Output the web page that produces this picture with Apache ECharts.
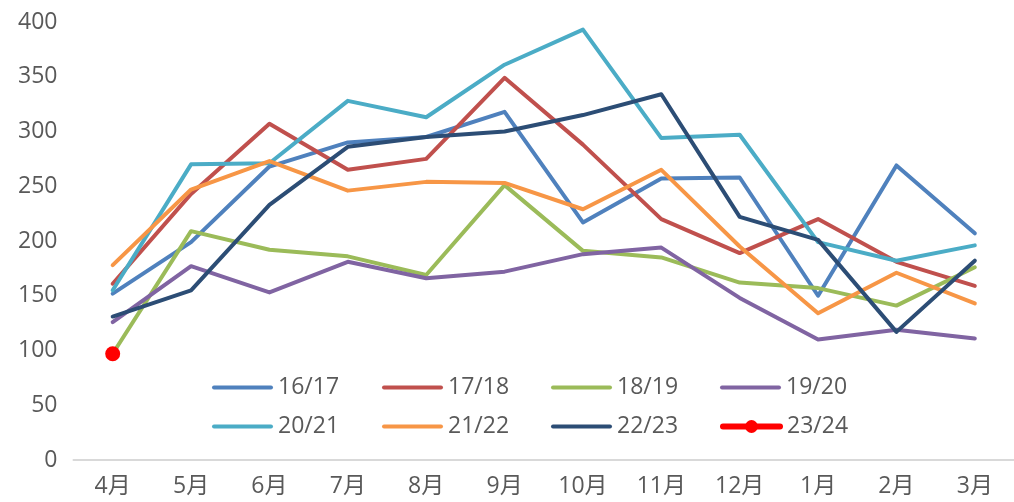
<!DOCTYPE html>
<html>
<head>
<meta charset="utf-8">
<title>月度对比</title>
<script src="https://cdn.jsdelivr.net/npm/echarts@6/dist/echarts.min.js"></script>
<style>
    html,body{margin:0;padding:0;background:#fff;}
    #main{width:1014px;height:502px;}
</style>
</head>
<body>
<div id="main"></div>
<script>
    // 横轴：4月 ~ 次年3月
    var months = ["4月","5月","6月","7月","8月","9月","10月","11月","12月","1月","2月","3月"];

    // 各年度数据
    var s1617 = [152,199,268,290,295,318,217,257,258,150,269,207];
    var s1718 = [161,243,307,265,275,349,288,220,189,220,181,159];
    var s1819 = [97,209,192,186,169,251,191,185,162,157,141,176];
    var s1920 = [126,177,153,181,166,172,188,194,148,110,119,111];
    var s2021 = [155,270,271,328,313,361,393,294,297,199,182,196];
    var s2122 = [178,247,273,246,254,253,229,265,195,134,171,143];
    var s2223 = [131,155,233,286,295,300,315,334,222,201,117,182];
    var s2324 = [97];

    var seasons = ["16/17","17/18","18/19","19/20","20/21","21/22","22/23","23/24"];
    var seasonData = [s1617,s1718,s1819,s1920,s2021,s2122,s2223,s2324];
    var colors = ["#4F81BD","#C0504D","#9BBB59","#8064A2","#4BACC6","#F79646","#2C4D75","#FF0000"];

    // 纵轴刻度
    var yMin = 0, yMax = 400, yStep = 50;

    var font = "'Open Sans','Noto Sans CJK SC',sans-serif";
    var myChart = echarts.init(document.getElementById("main"));

    // 图例：两行四列，每项单独定位
    var legendCols = [212,382,551,720];
    var legendRows = [376,415];
    var legends = seasonData.map(function(d,i){
        var last = (i == seasonData.length-1);
        return {
            data:[seasons[i]],
            left:legendCols[i%4],
            top:legendRows[Math.floor(i/4)],
            padding:0,
            itemWidth:57,
            itemHeight:last?16:4,
            itemGap:0,
            lineStyle:{width:last?6:4,cap:"round"},
            textStyle:{fontSize:23,color:"#595959",fontFamily:font,padding:[0,0,0,2]},
            selectedMode:false
        };
    });

    var series = seasonData.map(function(d,i){
        var last = (i == seasonData.length-1);
        return {
            name:seasons[i],
            type:"line",
            data:d,
            color:colors[i],
            lineStyle:{width:last?6:4,color:colors[i],cap:"round",join:"round"},
            showSymbol:last,
            symbol:last?"circle":"none",
            symbolSize:15,
            itemStyle:{color:colors[i]},
            silent:true,
            animation:false,
            z:2+i
        };
    });

    var option = {
        animation:false,
        grid:{left:73.5,right:-8.5,top:22,bottom:42},
        legend:legends,
        xAxis:{
            type:"category",
            data:months,
            boundaryGap:true,
            axisLine:{lineStyle:{color:"#D9D9D9",width:2}},
            axisTick:{show:false},
            axisLabel:{fontSize:23,color:"#595959",fontFamily:font,margin:15}
        },
        yAxis:{
            type:"value",
            min:yMin,
            max:yMax,
            interval:yStep,
            splitLine:{show:false},
            axisLine:{show:false},
            axisTick:{show:false},
            axisLabel:{fontSize:23,color:"#595959",fontFamily:font,margin:16}
        },
        series:series
    };

    myChart.setOption(option);
</script>
</body>
</html>
